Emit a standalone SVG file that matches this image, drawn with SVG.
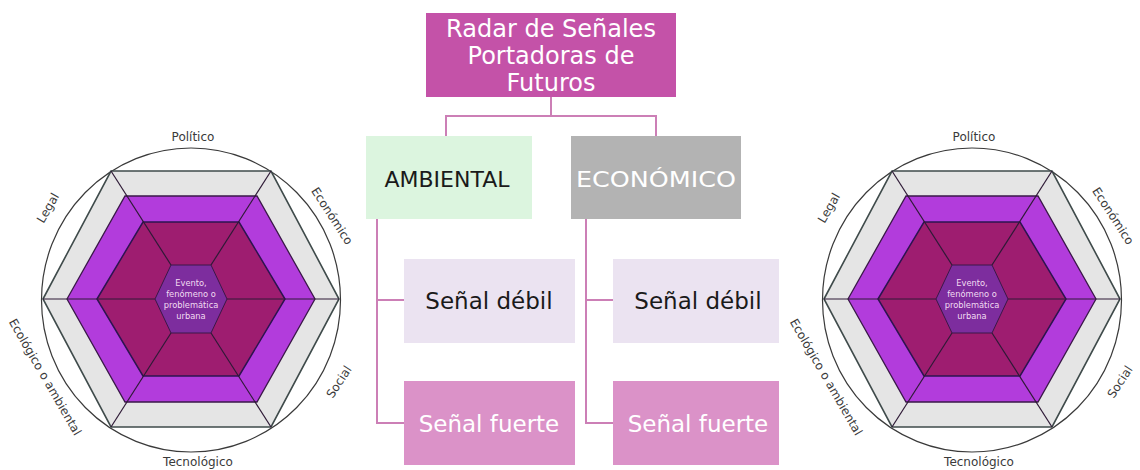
<svg xmlns="http://www.w3.org/2000/svg" xmlns:xlink="http://www.w3.org/1999/xlink" width="1140" height="470" viewBox="0 0 1140 470">
  <style>
    text { font-family: "DejaVu Sans", "Liberation Sans", sans-serif; }
    .box-title { fill: #c452a8; }
    .box-amb { fill: #dcf5df; }
    .box-eco { fill: #b3b3b3; }
    .box-deb { fill: #ebe3f1; }
    .box-fue { fill: #db92c8; }
    .t-big { font-size: 24px; text-anchor: middle; }
    .t-mid { font-size: 23px; text-anchor: middle; }
    .white { fill: #ffffff; }
    .dark { fill: #1a1a1a; }
    .conn { fill: none; stroke: #cc7fb6; stroke-width: 2; }
    .lbl { font-size: 12px; fill: #3a3a3a; text-anchor: middle; }
    .rot { dominant-baseline: central; }
    .center-t { font-size: 8.3px; fill: #f2dcf2; text-anchor: middle; }
    .ring { fill: #ffffff; stroke: #3a3a3a; stroke-width: 1.2; }
    .hex-grey { fill: #e5e5e5; stroke: #3f4b4b; stroke-width: 1.6; }
    .hex-purple { fill: #b23cdc; stroke: #3a1848; stroke-width: 1.3; }
    .hex-dark { fill: #9e1d70; stroke: #2c1450; stroke-width: 1.5; }
    .hex-inner { fill: #7d2d9e; stroke: #3a1848; stroke-width: 1; }
    .spoke { stroke: #2e1a36; stroke-width: 1.2; fill: none; }
  </style>
  <defs>
    <g id="radar-shape">
      <ellipse class="ring" cx="191" cy="300" rx="149.5" ry="152"/>
      <polygon class="hex-grey" points="43,299 111,171 271,171 339,299 271,427 111,427"/>
      <polygon class="hex-purple" points="67,299 125,196 257,196 315,299 257,402 125,402"/>
      <polygon class="hex-dark" points="97,299 143,222 239,222 285,299 239,376 143,376"/>
      <g class="spoke">
        <line x1="155" y1="299" x2="43" y2="299"/>
        <line x1="227" y1="299" x2="339" y2="299"/>
        <line x1="171" y1="265" x2="111" y2="171"/>
        <line x1="211" y1="265" x2="271" y2="171"/>
        <line x1="211" y1="333" x2="271" y2="427"/>
        <line x1="171" y1="333" x2="111" y2="427"/>
      </g>
      <polygon class="hex-inner" points="155,299 171,265 211,265 227,299 211,333 171,333"/>
    </g>
  </defs>

  <g id="connectors">
    <polyline class="conn" points="551,97 551,116"/>
    <polyline class="conn" points="446,136 446,116 656,116 656,136"/>
    <polyline class="conn" points="377,219 377,423 404,423"/>
    <polyline class="conn" points="377,300 404,300"/>
    <polyline class="conn" points="586,219 586,423 613,423"/>
    <polyline class="conn" points="586,300 613,300"/>
  </g>

  <g id="node-title">
    <rect class="box-title" x="426" y="13" width="250" height="84"/>
    <text class="t-big white" x="551" y="37">Radar de Señales</text>
    <text class="t-big white" x="551" y="64">Portadoras de</text>
    <text class="t-big white" x="551" y="91">Futuros</text>
  </g>

  <g id="node-ambiental">
    <rect class="box-amb" x="366" y="136" width="166" height="83"/>
    <text class="dark" x="447" y="187" font-size="22" text-anchor="middle">AMBIENTAL</text>
  </g>

  <g id="node-economico">
    <rect class="box-eco" x="571" y="136" width="170" height="83"/>
    <text class="white" x="656" y="187" font-size="22" text-anchor="middle" textLength="160" lengthAdjust="spacingAndGlyphs">ECONÓMICO</text>
  </g>

  <g id="node-debil-1">
    <rect class="box-deb" x="404" y="259" width="171" height="84"/>
    <text class="t-mid dark" x="489" y="309">Señal débil</text>
  </g>
  <g id="node-fuerte-1">
    <rect class="box-fue" x="404" y="381" width="171" height="84"/>
    <text class="t-mid white" x="489" y="432">Señal fuerte</text>
  </g>
  <g id="node-debil-2">
    <rect class="box-deb" x="613" y="259" width="166" height="84"/>
    <text class="t-mid dark" x="698" y="309">Señal débil</text>
  </g>
  <g id="node-fuerte-2">
    <rect class="box-fue" x="613" y="381" width="166" height="84"/>
    <text class="t-mid white" x="698" y="432">Señal fuerte</text>
  </g>

  <g id="radar-left">
    <use xlink:href="#radar-shape" href="#radar-shape"/>
    <text class="center-t" x="191" y="286">Evento,</text>
    <text class="center-t" x="191" y="297">fenómeno o</text>
    <text class="center-t" x="191" y="308">problemática</text>
    <text class="center-t" x="191" y="319">urbana</text>
    <text class="lbl" x="193" y="141">Político</text>
    <text class="lbl" x="198" y="466">Tecnológico</text>
    <text class="lbl rot" transform="translate(332,216) rotate(57)">Económico</text>
    <text class="lbl rot" transform="translate(339,382) rotate(-57)">Social</text>
    <text class="lbl rot" transform="translate(48,208) rotate(-60)">Legal</text>
    <text class="lbl rot" transform="translate(45,377) rotate(60)">Ecológico o ambiental</text>
  </g>

  <g id="radar-right" transform="translate(781,0)">
    <use xlink:href="#radar-shape" href="#radar-shape"/>
    <text class="center-t" x="191" y="286">Evento,</text>
    <text class="center-t" x="191" y="297">fenómeno o</text>
    <text class="center-t" x="191" y="308">problemática</text>
    <text class="center-t" x="191" y="319">urbana</text>
    <text class="lbl" x="193" y="141">Político</text>
    <text class="lbl" x="198" y="466">Tecnológico</text>
    <text class="lbl rot" transform="translate(332,216) rotate(57)">Económico</text>
    <text class="lbl rot" transform="translate(339,382) rotate(-57)">Social</text>
    <text class="lbl rot" transform="translate(48,208) rotate(-60)">Legal</text>
    <text class="lbl rot" transform="translate(45,377) rotate(60)">Ecológico o ambiental</text>
  </g>
</svg>
